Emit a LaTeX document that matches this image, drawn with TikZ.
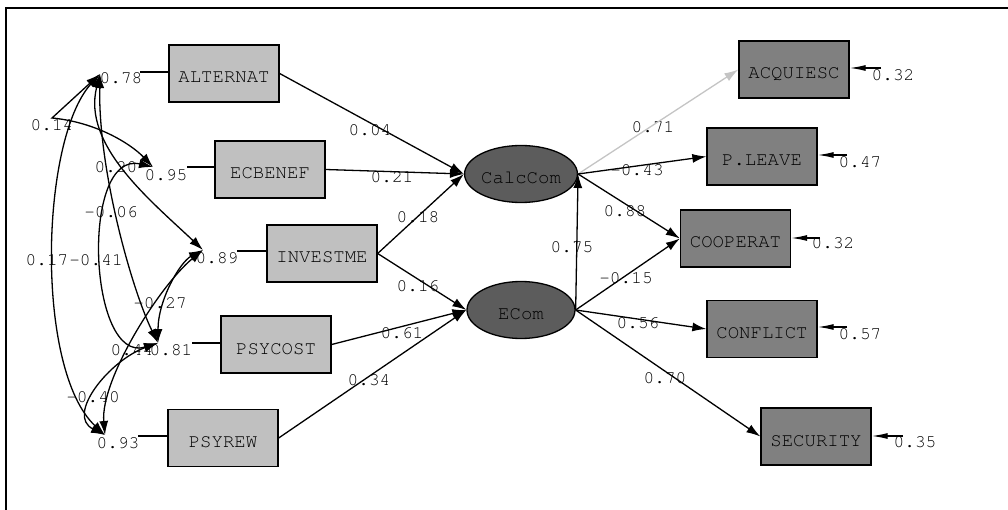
\documentclass[tikz,border=0pt]{standalone}
\usepackage[T1]{fontenc}
\usetikzlibrary{shapes.geometric,arrows.meta}
\definecolor{obsx}{HTML}{C0C0C0}
\definecolor{obsy}{HTML}{808080}
\definecolor{latfill}{HTML}{5C5C5C}
\definecolor{weak}{HTML}{C4C4C4}
\newcommand{\varfont}{\fontencoding{T1}\fontfamily{pcr}\fontsize{19}{20}\selectfont}
\newcommand{\numfont}{\fontencoding{T1}\fontfamily{pcr}\fontsize{17.8}{20}\selectfont}

\begin{document}
\begin{tikzpicture}[
  x=1pt, y=-1pt,
  xbox/.style={rectangle, draw, line width=1.3pt, fill=obsx,
    minimum width=110pt, minimum height=57pt, inner sep=0pt,
    text height=19pt, text depth=0pt, font=\varfont},
  ybox/.style={xbox, fill=obsy},
  latent/.style={ellipse, draw, line width=1.3pt, fill=latfill,
    minimum width=108pt, minimum height=57pt, inner sep=0pt,
    text height=19pt, text depth=0pt, font=\varfont},
  coef/.style={inner sep=0pt, font=\numfont},
  reg/.style={-{Latex[length=14pt,width=9pt]}, line width=1.3pt},
  err/.style={-{Latex[length=16pt,width=6pt]}, line width=1.3pt},
  cov/.style={{Latex[length=14pt,width=9pt]}-{Latex[length=14pt,width=9pt]}, line width=1.3pt},
  varl/.style={line width=1.3pt}
]
\useasboundingbox (0,0) rectangle (1008,510);
\draw[line width=1.6pt] (6,510) -- (6,8) -- (1008,8);

% exogenous
\node[xbox] (alt) at (224,73.5) {ALTERNAT};
\node[xbox] (ecb) at (270,169.5) {ECBENEF};
\node[xbox] (inv) at (322,253.5) {INVESTME};
\node[xbox] (psc) at (276,344.5) {PSYCOST};
\node[xbox] (psr) at (223,438) {PSYREW};

% latent
\node[latent] (calc) at (521,174) {CalcCom};
\node[latent] (ecom) at (521,310) {ECom};

% endogenous
\node[ybox] (acq) at (794,69.5) {ACQUIESC};
\node[ybox] (plv) at (762,156.5) {P.LEAVE};
\node[ybox] (coop) at (735.5,238.5) {COOPERAT};
\node[ybox] (conf) at (762,329) {CONFLICT};
\node[ybox] (sec) at (816,436.5) {SECURITY};

% coefficients
\node[coef] (b04) at (370,130) {0.04};
\node[coef] (b21) at (392,177) {0.21};
\node[coef] (b18) at (418,217) {0.18};
\node[coef] (b16) at (418,286) {0.16};
\node[coef] (b61) at (402,333) {0.61};
\node[coef] (b34) at (369,380) {0.34};
\node[coef] (b75) at (572,247) {0.75};
\node[coef] (l71) at (653,127) {0.71};
\node[coef] (l43) at (637,170) {-0.43};
\node[coef] (l88) at (625,211) {0.88};
\node[coef] (l15) at (626,278) {-0.15};
\node[coef] (l56) at (638,323) {0.56};
\node[coef] (l70) at (665,378) {0.70};
\node[coef] (e32a) at (893,75) {0.32};
\node[coef] (e47) at (860,162) {0.47};
\node[coef] (e32b) at (833,243) {0.32};
\node[coef] (e57) at (860,334) {0.57};
\node[coef] (e35) at (915,442) {0.35};
\node[coef] (v78) at (121,78) {0.78};
\node[coef] (v95) at (166,175) {0.95};
\node[coef] (v89) at (217,258) {0.89};
\node[coef] (v81) at (171,350) {0.81};
\node[coef] (v93) at (118,443) {0.93};
\node[coef] (r14) at (52,125) {0.14};
\node[coef] (r20) at (116,167) {0.20};
\node[coef] (r06) at (111,212) {-0.06};
\node[coef] (r17) at (47,260) {0.17};
\node[coef] (r41) at (96,260) {-0.41};
\node[coef] (r27) at (160,303) {-0.27};
\node[coef] (r44) at (132,350) {0.44};
\node[coef] (r40) at (93,397) {-0.40};

% structural paths
\draw[reg] (alt.east) -- (calc.west);
\draw[reg] (ecb.east) -- (calc.west);
\draw[reg] (inv.east) -- (calc.west);
\draw[reg] (inv.east) -- (ecom.west);
\draw[reg] (psc.east) -- (ecom.west);
\draw[reg] (psr.east) -- (ecom.west);
\draw[reg] (ecom.east) -- (calc.east);
\draw[reg, draw=weak] (calc.east) -- (acq.west);
\draw[reg] (calc.east) -- (plv.west);
\draw[reg] (calc.east) -- (coop.west);
\draw[reg] (ecom.east) -- (coop.west);
\draw[reg] (ecom.east) -- (conf.west);
\draw[reg] (ecom.east) -- (sec.west);

% error terms
\coordinate (eacq) at (881,68);
\coordinate (eplv) at (847,155);
\coordinate (ecoop) at (820,238);
\coordinate (econf) at (847,327);
\coordinate (esec) at (903,436);
\draw[err] (eacq) -- (acq.east |- eacq);
\draw[err] (eplv) -- (plv.east |- eplv);
\draw[err] (ecoop) -- (coop.east |- ecoop);
\draw[err] (econf) -- (conf.east |- econf);
\draw[err] (esec) -- (sec.east |- esec);

% variances of exogenous
\coordinate (valt) at (100,74);
\coordinate (vecb) at (153,167);
\coordinate (vinv) at (203,250);
\coordinate (vpsc) at (158,343);
\coordinate (vpsr) at (105,435);
\coordinate (lalt) at (140,72);
\coordinate (lecb) at (187,167);
\coordinate (linv) at (237,251);
\coordinate (lpsc) at (192,343);
\coordinate (lpsr) at (138,436);
\draw[varl] (lalt) -- (alt.west |- lalt);
\draw[varl] (lecb) -- (ecb.west |- lecb);
\draw[varl] (linv) -- (inv.west |- linv);
\draw[varl] (lpsc) -- (psc.west |- lpsc);
\draw[varl] (lpsr) -- (psr.west |- lpsr);

% covariances
\coordinate (kink) at (52,118);
\draw[cov] (valt) -- (kink) .. controls (95,122) and (130,143) .. (vecb);
\draw[cov] (valt) .. controls (40,140) and (35,370) .. (vpsr);
\draw[cov] (valt) .. controls (82,145) and (150,200) .. (vinv);
\draw[cov] (valt) .. controls (98,170) and (132,290) .. (vpsc);
\draw[cov] (vecb) .. controls (80,150) and (88,365) .. (vpsc);
\draw[cov] (vinv) .. controls (180,262) and (158,300) .. (vpsc);
\draw[cov] (vinv) .. controls (160,285) and (100,380) .. (vpsr);
\draw[cov] (vpsc) .. controls (110,360) and (65,415) .. (vpsr);
\end{tikzpicture}
\end{document}
